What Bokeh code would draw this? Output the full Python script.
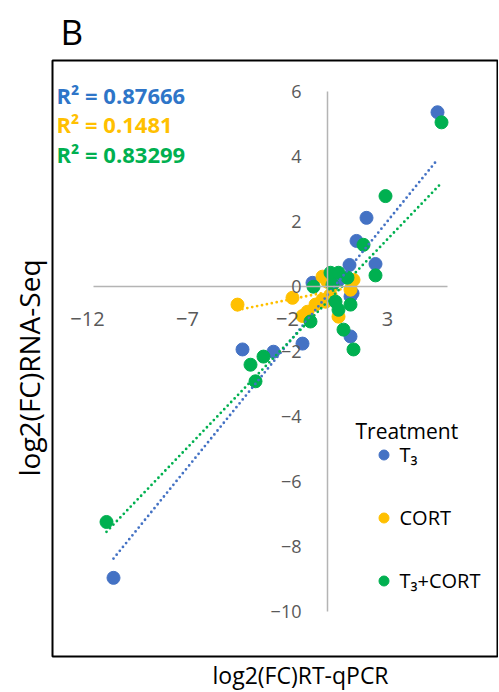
import math
from bokeh.plotting import figure
from bokeh.models import (Range1d, LinearAxis, FixedTicker, CustomJSTickFormatter,
                          Label, Legend, LegendItem, Grid, Title)
from bokeh.embed import file_html
from bokeh.resources import INLINE

# ---- data (log2 fold changes) ----
T3_X = [5.5, -10.7, -4.25, -2.7, -1.25, 1.95, 1.45, 2.4, 1.1, -0.75, 1.25, 1.15, 0.55, 1.15]
T3_Y = [5.37, -8.96, -1.93, -2.0, -1.75, 2.12, 1.41, 0.7, 0.67, 0.12, -0.2, -1.53, 0.2, -0.3]

CORT_X = [-4.5, -1.75, -0.25, 0.0, -0.6, -1.0, -1.25, -0.25, 0.55, 1.15, 1.3, 0.15, -0.1]
CORT_Y = [-0.55, -0.34, 0.31, 0.15, -0.55, -0.77, -0.9, -0.4, -0.92, -0.09, 0.21, -0.25, -0.46]

T3C_X = [5.7, 2.9, 1.8, 2.4, 0.15, 0.55, 1.0, -0.7, 0.25, 0.4, 0.55, 1.15, -0.85, 0.8, 1.3, -3.2, -3.85, -3.6, -11.05]
T3C_Y = [5.06, 2.79, 1.29, 0.35, 0.43, 0.43, 0.28, 0.0, 0.06, -0.46, -0.71, -0.55, -1.07, -1.32, -1.93, -2.15, -2.4, -2.91, -7.24]

# linear trendlines (slope, intercept) and R² as shown
TREND = {"T3": (0.758, -0.256), "CORT": (0.124, -0.16), "T3C": (0.641, -0.46)}
R2_TEXT = ["R\u00b2 = 0.87666", "R\u00b2 = 0.1481", "R\u00b2 = 0.83299"]

X_TICKS = [-12, -7, -2, 3]
Y_TICKS = [-10, -8, -6, -4, -2, 0, 2, 4, 6]

SERIES_LABELS = ["T\u2083", "CORT", "T\u2083+CORT"]
COLORS = ["#4472C4", "#FFC000", "#00B050"]
TEXT_COLORS = ["#2E75C8", "#FFC000", "#00B050"]

FONT = "Open Sans"

p = figure(width=498, height=690,
           x_range=Range1d(-13.75, 8.5), y_range=Range1d(-11.38, 6.963),
           output_backend="svg", toolbar_location=None,
           x_axis_location=None, y_axis_location=None,
           min_border_left=52, min_border_right=1, min_border_top=60, min_border_bottom=32)
for g in p.select(type=Grid):
    g.visible = False
p.outline_line_color = "black"
p.outline_line_width = 2
p.background_fill_color = "white"

fmt = CustomJSTickFormatter(code="return tick < 0 ? '\\u2212' + Math.abs(tick) : String(tick);")

def style_axis(ax, size, standoff):
    ax.axis_line_color = "#B4B4B4"
    ax.axis_line_width = 1.5
    ax.major_tick_line_color = None
    ax.minor_tick_line_color = None
    ax.major_label_text_font = FONT
    ax.major_label_text_font_size = size
    ax.major_label_text_color = "#595959"
    ax.major_label_standoff = standoff

xa = LinearAxis(fixed_location=0, ticker=FixedTicker(ticks=X_TICKS), formatter=fmt, bounds=(-11.7, 6.0))
style_axis(xa, "20px", 19)
p.add_layout(xa, "below")
ya = LinearAxis(fixed_location=0, ticker=FixedTicker(ticks=Y_TICKS), formatter=fmt, bounds=(-10, 6))
style_axis(ya, "18px", 20)
p.add_layout(ya, "left")

# points
r_t3 = p.scatter(T3_X, T3_Y, size=13, marker="circle", fill_color=COLORS[0], line_color=COLORS[0])
r_c = p.scatter(CORT_X, CORT_Y, size=13, marker="circle", fill_color=COLORS[1], line_color=COLORS[1])
r_tc = p.scatter(T3C_X, T3C_Y, size=13, marker="circle", fill_color=COLORS[2], line_color=COLORS[2])

# trendlines
for key, xs, col in (("T3", T3_X, COLORS[0]), ("CORT", CORT_X, COLORS[1]), ("T3C", T3C_X, COLORS[2])):
    m, b = TREND[key]
    x0, x1 = min(xs), max(xs)
    p.line([x0, x1], [m * x0 + b, m * x1 + b], line_color=col, line_width=2.8,
           line_dash="0 5", line_cap="round")

# R² labels
for i, (txt, col) in enumerate(zip(R2_TEXT, TEXT_COLORS)):
    p.add_layout(Label(x=4, y=562 - i * 29.5, x_units="screen", y_units="screen", text=txt,
                       text_font=FONT, text_font_size="22px", text_font_style="bold",
                       text_color=col, text_baseline="middle", text_align="left"))

# panel letter and axis titles
p.add_layout(Title(text="B", align="left", offset=8, standoff=11, text_font=FONT,
                   text_font_size="35px", text_font_style="normal", text_color="black"), "above")
p.add_layout(Title(text="log2(FC)RT-qPCR", align="left", offset=160, standoff=0, text_font=FONT,
                   text_font_size="23px", text_font_style="normal", text_color="black"), "below")
p.add_layout(Title(text="log2(FC)RNA-Seq", align="left", offset=180, standoff=10, text_font=FONT,
                   text_font_size="28px", text_font_style="normal", text_color="black"), "left")

p.add_layout(Label(x=303, y=226, x_units="screen", y_units="screen", text="Treatment",
                   text_font=FONT, text_font_size="21px", text_color="black",
                   text_baseline="middle", text_align="left"))

legend = Legend(items=[LegendItem(label=SERIES_LABELS[0], renderers=[r_t3]),
                       LegendItem(label=SERIES_LABELS[1], renderers=[r_c]),
                       LegendItem(label=SERIES_LABELS[2], renderers=[r_tc])],
                location=(318.5, 62), orientation="vertical",
                glyph_width=25, glyph_height=25, label_standoff=4, spacing=36,
                padding=0, margin=0, border_line_color=None, background_fill_alpha=0,
                label_text_font=FONT, label_text_font_size="20px", label_text_color="black")
p.add_layout(legend)

open("out.html", "w").write(file_html(p, INLINE))
